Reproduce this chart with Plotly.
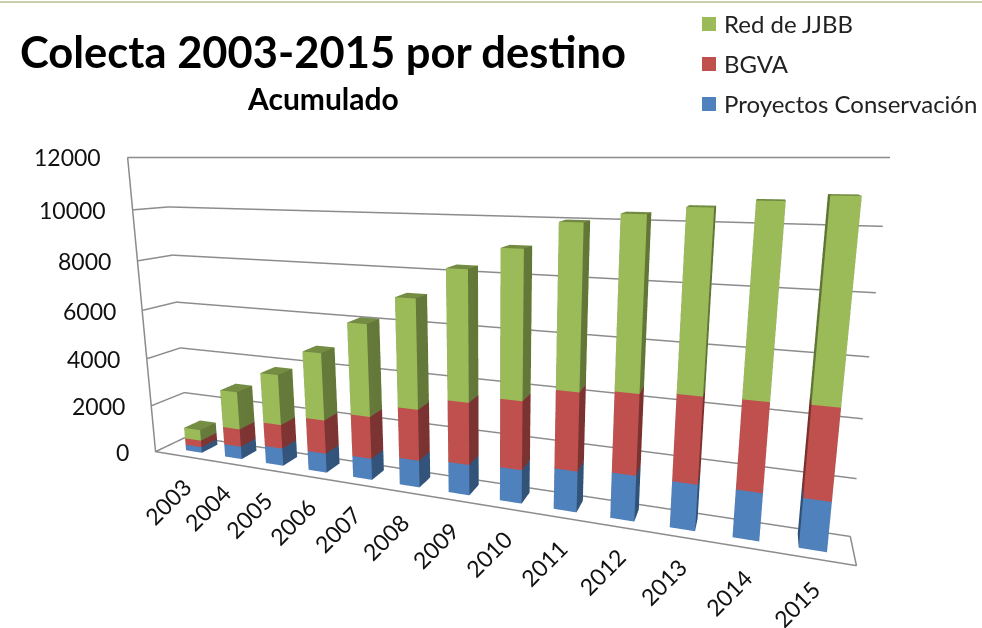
import plotly.graph_objects as go

years = ["2003","2004","2005","2006","2007","2008","2009","2010","2011","2012","2013","2014","2015"]
proyectos = [245, 530, 720, 780, 850, 1050, 1170, 1260, 1500, 1640, 1630, 1650, 1680]
bgva = [285, 740, 980, 1350, 1660, 1970, 2340, 2530, 2820, 2840, 2980, 3000, 3020]
red = [460, 1560, 2040, 2660, 3550, 4110, 4760, 5260, 5650, 5800, 5920, 6110, 6240]
series = [("Proyectos Conservación", proyectos, "#4F81BD"), ("BGVA", bgva, "#C0504D"), ("Red de JJBB", red, "#9BBB59")]
legend_order = [series[2], series[1], series[0]]
zticks = [0, 2000, 4000, 6000, 8000, 10000, 12000]
BAR_W = 0.41
BAR_D = 0.5
BAR_Y = 0.05
XR = [-0.75, 12.6]
YR = [-0.5, 0.5]
ZR = [0, 12000]
FRAME = "#8c8c8c"
EPS = 0.004

def cuboids(vals, bases):
    xs, ys, zs, i, j, k = [], [], [], [], [], []
    for n, (v, b) in enumerate(zip(vals, bases)):
        o = len(xs)
        for dz in (b, b + v):
            for dx, dy in ((-1, -1), (1, -1), (1, 1), (-1, 1)):
                xs.append(n + dx * BAR_W / 2)
                ys.append(BAR_Y + dy * BAR_D / 2)
                zs.append(dz)
        faces = [(0,1,2),(0,2,3),(4,5,6),(4,6,7),(0,1,5),(0,5,4),(1,2,6),(1,6,5),(2,3,7),(2,7,6),(3,0,4),(3,4,7)]
        for a, c, e in faces:
            i.append(o + a); j.append(o + c); k.append(o + e)
    return xs, ys, zs, i, j, k

fig = go.Figure()
bases = [0] * len(years)
for name, vals, col in series:
    x, y, z, i, j, k = cuboids(vals, bases)
    fig.add_trace(go.Mesh3d(x=x, y=y, z=z, i=i, j=j, k=k, color=col, name=name, flatshading=True,
        lighting=dict(ambient=0.62, diffuse=0.55, specular=0, roughness=1, fresnel=0, facenormalsepsilon=0),
        lightposition=dict(x=-300, y=-1000, z=300), hoverinfo="name+z"))
    bases = [b + v for b, v in zip(bases, vals)]

# wall and floor outline, one continuous path, kept a hair inside the scene box
x0, x1 = XR[0] + EPS, XR[1] - EPS
y0, y1 = YR[0] + EPS, YR[1] - EPS
z0, z1 = ZR[0] + 6, ZR[1] - 6
fig.add_trace(go.Scatter3d(
    x=[x0, x0, x0, x0, x1, x1],
    y=[y1, y0, y0, y0, y0, y1],
    z=[z0, z0, z1, z0, z0, z0],
    mode="lines", line=dict(color=FRAME, width=3), hoverinfo="skip", showlegend=False))

axis_common = dict(showbackground=False, showspikes=False, title=dict(text=""), zeroline=False, showline=False, ticks="", showticklabels=False)
scene_ann = []
for n, yr in enumerate(years):
    scene_ann.append(dict(x=n, y=YR[0], z=0, text=yr, textangle=-45, showarrow=False, xanchor="center", yanchor="middle",
                          xshift=-17, yshift=-45, font=dict(size=23, color="#111")))
for t in zticks:
    scene_ann.append(dict(x=XR[0], y=YR[0], z=t, text=str(t), showarrow=False, xanchor="right", yanchor="middle",
                          xshift=-24, font=dict(size=23, color="#111")))

fig.update_layout(
    width=982, height=628, margin=dict(l=0, r=0, t=0, b=0), paper_bgcolor="white", showlegend=False,
    font=dict(family="Lato", color="#222"),
    scene=dict(
        domain=dict(x=[0, 1], y=[0, 1]),
        aspectmode="manual", aspectratio=dict(x=2.21, y=0.16, z=1.0),
        xaxis=dict(axis_common, range=XR, showgrid=False),
        yaxis=dict(axis_common, range=YR, showgrid=False),
        zaxis=dict(axis_common, tickvals=zticks, range=ZR, showgrid=True, gridcolor=FRAME, gridwidth=3),
        camera=dict(eye=dict(x=0.832, y=-2.016, z=0.50), center=dict(x=0.092, y=0.034, z=0.05), up=dict(x=0, y=0, z=1),
                    projection=dict(type="perspective")),
        annotations=scene_ann,
    ),
)
def px(x): return x / 982
def py(y): return 1 - y / 628
fig.add_annotation(text="<b>Colecta 2003-2015 por destino</b>", x=px(323), y=py(51), xref="paper", yref="paper", xanchor="center", yanchor="middle", showarrow=False, font=dict(size=43.5, color="black"))
fig.add_annotation(text="<b>Acumulado</b>", x=px(323), y=py(98), xref="paper", yref="paper", xanchor="center", yanchor="middle", showarrow=False, font=dict(size=30, color="black"))
for (name, vals, col), yy in zip(legend_order, [24, 64, 104]):
    fig.add_shape(type="rect", xref="paper", yref="paper", x0=px(702), x1=px(716), y0=py(yy-7), y1=py(yy+7), fillcolor=col, line=dict(width=0))
    fig.add_annotation(text=name, x=px(722), y=py(yy), xref="paper", yref="paper", xanchor="left", yanchor="middle", showarrow=False, font=dict(size=24, color="#222"))
fig.add_shape(type="line", xref="paper", yref="paper", x0=0, x1=1, y0=py(2), y1=py(2), line=dict(color="#c9cfa8", width=2))
fig.write_html("out.html", config=dict(displayModeBar=False), post_script="document.body.style.margin='0';document.body.style.overflow='hidden';")
